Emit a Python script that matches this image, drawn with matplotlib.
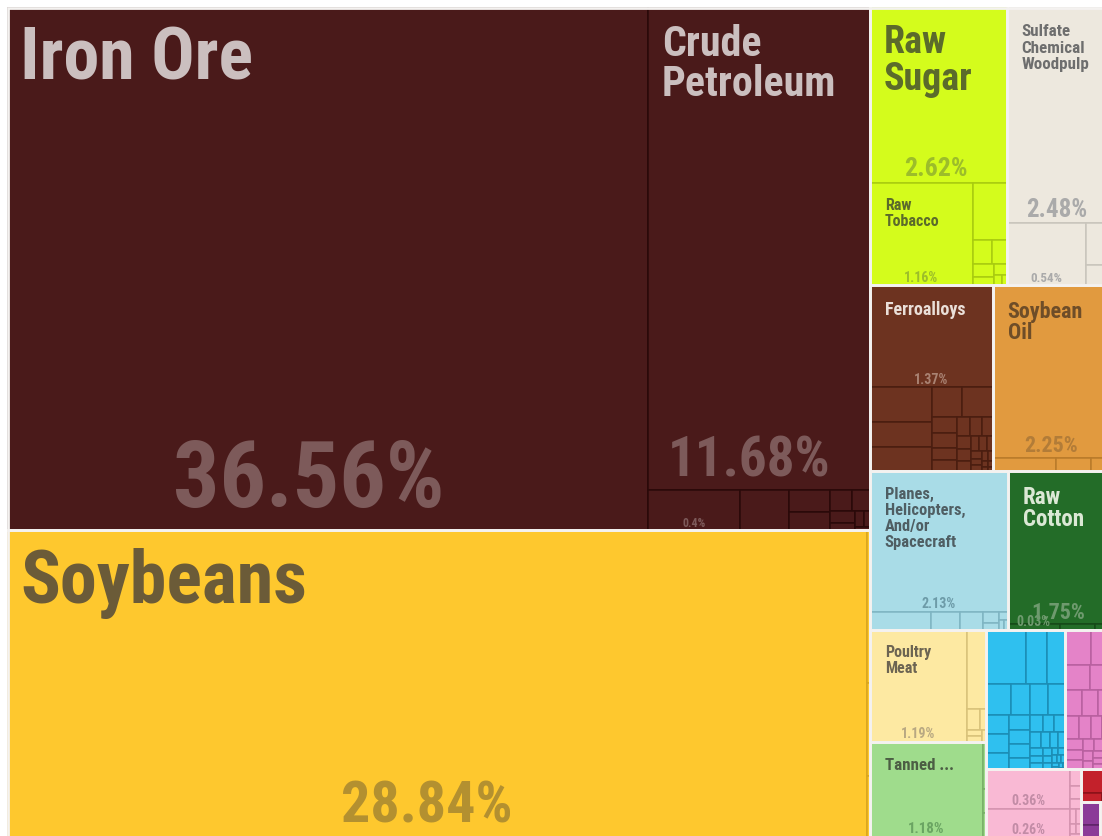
import matplotlib
matplotlib.use("Agg")
import matplotlib.pyplot as plt
from matplotlib.patches import Rectangle
from matplotlib import font_manager

# ---------------------------------------------------------------------------
# Export shares (% of total) per product, grouped by sector
# ---------------------------------------------------------------------------
mineral = [36.56, 11.68, 0.40, 0.21, 0.10, 0.08, 0.05, 0.04, 0.03, 0.02, 0.015, 0.01, 0.005]
mineral_names = ["Iron Ore", "Crude\nPetroleum", ""]

vegetable = [28.84, 0.05, 0.03, 0.02]
vegetable_names = ["Soybeans"]

foodstuffs = [2.62, 1.16, 0.21, 0.05, 0.04, 0.03, 0.02, 0.015, 0.01, 0.005]
foodstuffs_names = ["Raw\nSugar", "Raw\nTobacco"]

paper = [2.48, 0.54, 0.12, 0.06]
paper_names = ["Sulfate\nChemical\nWoodpulp", ""]

metals = [1.37, 0.24, 0.17, 0.16, 0.10, 0.10, 0.045, 0.04, 0.035, 0.03, 0.028,
          0.025, 0.022, 0.02, 0.018, 0.015, 0.013, 0.012, 0.01, 0.009, 0.008,
          0.007, 0.006, 0.005, 0.004, 0.003, 0.003, 0.002]
metals_names = ["Ferroalloys"]

byproducts = [2.25, 0.09, 0.05, 0.03]
byproducts_names = ["Soybean\nOil"]

transport = [2.13, 0.12, 0.056, 0.046, 0.018, 0.012, 0.008, 0.006, 0.004]
transport_names = ["Planes,\nHelicopters,\nAnd/or\nSpacecraft"]

textiles = [1.75, 0.03, 0.02, 0.01]
textiles_names = ["Raw\nCotton", ""]

animal = [1.19, 0.17, 0.03, 0.015, 0.01, 0.01, 0.005]
animal_names = ["Poultry\nMeat"]

hides = [1.18, 0.02, 0.01, 0.01]
hides_names = ["Tanned ..."]

machines = [0.24, 0.125, 0.105, 0.08, 0.065, 0.06, 0.055, 0.048, 0.045, 0.04,
            0.036, 0.034, 0.032, 0.028, 0.024, 0.022, 0.02, 0.018, 0.016, 0.013,
            0.012, 0.011, 0.01, 0.009, 0.008, 0.007, 0.006, 0.005, 0.005, 0.004,
            0.004, 0.003, 0.003, 0.002, 0.002, 0.001, 0.001]
machines_names = []

chemicals = [0.10, 0.08, 0.07, 0.06, 0.05, 0.045, 0.04, 0.035, 0.03, 0.028,
             0.025, 0.022, 0.02, 0.018, 0.015, 0.013, 0.012, 0.01, 0.009, 0.008,
             0.007, 0.006, 0.005, 0.004, 0.003, 0.003, 0.002]
chemicals_names = []

plastics = [0.36, 0.26, 0.02, 0.015, 0.012, 0.01, 0.008, 0.006, 0.005, 0.004]
plastics_names = ["", ""]

instruments = [0.08, 0.02, 0.01]
instruments_names = []

stone_glass = [0.05, 0.025]
stone_glass_names = []

miscellaneous = [0.03, 0.015]
miscellaneous_names = []

sectors = [
    ("Mineral Products", mineral, mineral_names),
    ("Vegetable Products", vegetable, vegetable_names),
    ("Foodstuffs", foodstuffs, foodstuffs_names),
    ("Paper Goods", paper, paper_names),
    ("Metals", metals, metals_names),
    ("Animal and Vegetable Bi-Products", byproducts, byproducts_names),
    ("Transportation", transport, transport_names),
    ("Textiles", textiles, textiles_names),
    ("Animal Products", animal, animal_names),
    ("Animal Hides", hides, hides_names),
    ("Machines", machines, machines_names),
    ("Chemical Products", chemicals, chemicals_names),
    ("Plastics and Rubbers", plastics, plastics_names),
    ("Instruments", instruments, instruments_names),
    ("Stone And Glass", stone_glass, stone_glass_names),
    ("Miscellaneous", miscellaneous, miscellaneous_names),
]

# ---------------------------------------------------------------------------
# Styling
# ---------------------------------------------------------------------------
# fill, inner edge, name colour, percent colour
sector_style = {
    "Mineral Products": ("#4a1a1a", "#2a0909", "#cbbfbf", "#7d5a5a"),
    "Vegetable Products": ("#fec82e", "#d9a61e", "#6b5b38", "#b39030"),
    "Foodstuffs": ("#d4fc1c", "#a9cc10", "#5b6b2b", "#9cbd2a"),
    "Paper Goods": ("#ede8de", "#c9c5bc", "#6e6e6e", "#aaaaaa"),
    "Metals": ("#6d3320", "#4a1d10", "#eadfd8", "#a98272"),
    "Animal and Vegetable Bi-Products": ("#e19a3f", "#b97b2b", "#6e4d28", "#b27c38"),
    "Transportation": ("#a9dce7", "#7fb5c3", "#4f5e63", "#6d9ba8"),
    "Textiles": ("#236c28", "#164a19", "#dbe8d5", "#6e9a6e"),
    "Animal Products": ("#fde9a2", "#d8c27a", "#6c6452", "#b8a882"),
    "Animal Hides": ("#9fdc8c", "#78b068", "#4c5e44", "#6aa462"),
    "Machines": ("#2fc0ef", "#1b8db5", "#1b5b75", "#1b8db5"),
    "Chemical Products": ("#e483c8", "#b8609f", "#6b3060", "#b8609f"),
    "Plastics and Rubbers": ("#f9b9d4", "#d493b0", "#7a5060", "#c28ca6"),
    "Instruments": ("#c3212b", "#8a1219", "#f0d0d0", "#8a1219"),
    "Stone And Glass": ("#8b3b98", "#5e2468", "#f0d0f0", "#5e2468"),
    "Miscellaneous": ("#b0306a", "#7a1d48", "#f0d0e0", "#7a1d48"),
}

# label sizes in pixels (name, percent) for the labelled products of each sector
label_px = {
    "Mineral Products": [(72, 92), (42, 55), (None, 12)],
    "Vegetable Products": [(74, 58)],
    "Foodstuffs": [(38, 26), (16, 14)],
    "Paper Goods": [(17, 25), (None, 13)],
    "Metals": [(18, 14)],
    "Animal and Vegetable Bi-Products": [(22, 22)],
    "Transportation": [(16.5, 14)],
    "Textiles": [(23, 22), (None, 14)],
    "Animal Products": [(16, 14)],
    "Animal Hides": [(17, 15)],
    "Plastics and Rubbers": [(None, 14), (None, 14)],
}

PREFERRED = ["Liberation Sans Narrow", "Roboto Condensed", "DejaVu Sans Condensed",
             "Liberation Sans", "DejaVu Sans"]
_available = {f.name for f in font_manager.fontManager.ttflist}
FONT = next(f for f in PREFERRED if f in _available)

PHI = (1 + 5 ** 0.5) / 2
PX2PT = 72.0 / 100.0


def squarify(values, x0, y0, x1, y1, ratio=PHI):
    """Squarified treemap layout (same rules as d3.treemapSquarify)."""
    order = sorted(range(len(values)), key=lambda i: -values[i])
    rects = [None] * len(values)
    total = float(sum(values))
    n = len(order)
    i0 = 0
    while i0 < n:
        dx, dy = x1 - x0, y1 - y0
        i1 = i0
        s = values[order[i1]]
        i1 += 1
        mn = mx = s
        alpha = max(dy / dx, dx / dy) / (total * ratio)
        beta = s * s * alpha
        best = max(mx / beta, beta / mn)
        while i1 < n:
            v = values[order[i1]]
            s2 = s + v
            mn2, mx2 = min(mn, v), max(mx, v)
            beta = s2 * s2 * alpha
            r = max(mx2 / beta, beta / mn2)
            if r > best:
                break
            s, mn, mx, best = s2, mn2, mx2, r
            i1 += 1
        row = order[i0:i1]
        if dx < dy:
            yb = y0 + dy * s / total if i1 < n else y1
            xx = x0
            for k in row:
                w = dx * values[k] / s
                rects[k] = (xx, y0, xx + w, yb)
                xx += w
            y0 = yb
        else:
            xb = x0 + dx * s / total if i1 < n else x1
            yy = y0
            for k in row:
                h = dy * values[k] / s
                rects[k] = (x0, yy, xb, yy + h)
                yy += h
            x0 = xb
        total -= s
        i0 = i1
    return rects


fig = plt.figure(figsize=(11.02, 8.36), dpi=100)
fig.patch.set_facecolor("white")
ax = fig.add_axes([0, 0, 1, 1])
ax.set_xlim(0, 1102)
ax.set_ylim(836, 0)
ax.axis("off")

# full treemap area (slightly wider than the canvas, right edge clipped)
AREA = (8, 8, 1112, 837)

totals = [sum(vals) for _, vals, _ in sectors]
sector_rects = squarify(totals, *AREA)

text_jobs = []
for (sector, vals, names), srect in zip(sectors, sector_rects):
    fill, edge, name_col, pct_col = sector_style[sector]
    child_rects = squarify(vals, *srect)
    for r in child_rects:
        ax.add_patch(Rectangle((r[0], r[1]), r[2] - r[0], r[3] - r[1],
                               facecolor=fill, edgecolor=edge,
                               linewidth=1.5 * PX2PT, zorder=1))
    sizes = label_px.get(sector, [])
    for i, name in enumerate(names):
        npx, ppx = sizes[i]
        text_jobs.append((child_rects[i], name, npx, ppx, vals[i], name_col, pct_col))

# white separation between sectors
for srect in sector_rects:
    ax.add_patch(Rectangle((srect[0], srect[1]), srect[2] - srect[0],
                           srect[3] - srect[1], facecolor="none",
                           edgecolor="#f4f2f0", linewidth=2.8 * PX2PT, zorder=2))

for rect, name, npx, ppx, value, name_col, pct_col in text_jobs:
    x0, y0, x1, y1 = rect
    if name and npx:
        base = y0 + 15 + 0.78 * npx
        pad = 16 - 0.05 * npx
        for j, line in enumerate(name.split("\n")):
            ax.text(x0 + pad, base + j * 0.97 * npx, line, fontsize=npx * PX2PT,
                    color=name_col, fontweight="bold", family=FONT,
                    ha="left", va="baseline", zorder=3)
    if ppx:
        shift = max(0.0, 0.25 * (ppx - 16))
        ax.text((x0 + x1) / 2 - shift, y1 - 0.25 * ppx, f"{value:g}%",
                fontsize=ppx * PX2PT, color=pct_col, fontweight="bold",
                family=FONT, ha="center", va="baseline", zorder=3)

fig.savefig("out.png", dpi=100, facecolor="white")
